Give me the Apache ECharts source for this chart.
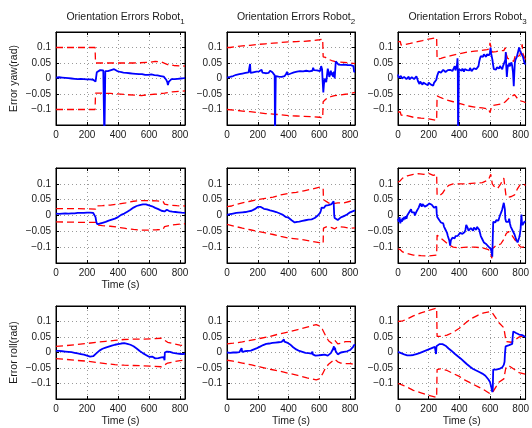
<!DOCTYPE html>
<html><head><meta charset="utf-8">
<script src="https://cdn.jsdelivr.net/npm/echarts@6/dist/echarts.min.js"></script>
<style>html,body{margin:0;padding:0;background:#fff}#c{width:532px;height:428px}</style>
</head><body><div id="c"></div><script>
// ---------- labels ----------
const titleMain = 'Orientation Errors Robot';
const robotIds = ['1', '2', '3'];
const rowYNames = ['Error yaw(rad)', '', 'Error roll(rad)'];
const timeName = 'Time (s)';
const xTickVals = [0, 200, 400, 600, 800];
const yTickVals = [-0.1, -0.05, 0, 0.05, 0.1];
const tMax = 832;
const yLim = 0.15;

// ---------- Robot 1, yaw ----------
const r1YawErr = [[0,0.003],[10,0.001],[20,0.004],[30,0.002],[40,0.003],[50,0.0],[60,0.002],[70,0.004],[80,0.001],[90,0.003],[100,0.0],[110,0.002],[120,-0.001],[130,0.001],[140,-0.002],[150,0.0],[160,-0.001],[170,0.002],[180,-0.002],[190,0.0],[200,-0.003],[210,-0.001],[220,-0.003],[230,-0.002],[240,-0.004],[250,-0.005],[255,-0.01],[260,-0.012],[263,0.02],[267,0.026],[275,0.024],[285,0.027],[295,0.023],[305,0.026],[310,0.025],[312,-0.2],[316,-0.2],[318,0.024],[325,0.027],[335,0.024],[345,0.029],[355,0.027],[365,0.032],[375,0.03],[385,0.027],[395,0.024],[405,0.026],[415,0.021],[425,0.023],[435,0.019],[445,0.022],[455,0.018],[465,0.021],[475,0.017],[485,0.02],[495,0.016],[505,0.019],[515,0.015],[525,0.018],[535,0.014],[545,0.017],[555,0.014],[565,0.016],[575,0.012],[585,0.015],[595,0.012],[605,0.01],[615,0.013],[625,0.009],[635,0.011],[645,0.008],[655,0.01],[665,0.006],[675,0.008],[685,0.004],[695,0.006],[705,0.002],[712,-0.005],[718,-0.012],[722,-0.021],[728,-0.01],[735,-0.004],[745,-0.002],[755,0.0],[765,-0.002],[775,0.001],[785,-0.001],[795,0.002],[805,0.0],[815,0.004],[825,0.001],[832,0.002]];
const r1YawUp = [[0,0.1],[252,0.1],[255,0.05],[300,0.05],[400,0.05],[500,0.05],[600,0.052],[640,0.055],[680,0.053],[720,0.045],[760,0.042],[832,0.04]];
const r1YawLo = [[0,-0.1],[252,-0.1],[255,-0.047],[350,-0.048],[450,-0.052],[550,-0.055],[600,-0.052],[650,-0.05],[700,-0.047],[750,-0.043],[832,-0.04]];

// ---------- Robot 2, yaw ----------
const r2YawErr = [[0,0.003],[10,0.0],[20,0.005],[30,0.002],[40,0.008],[50,0.006],[60,0.012],[70,0.009],[80,0.014],[90,0.011],[100,0.016],[110,0.012],[120,0.018],[130,0.014],[140,0.02],[145,0.016],[150,0.047],[153,0.018],[160,0.015],[170,0.02],[180,0.016],[190,0.022],[200,0.019],[210,0.023],[220,0.018],[225,0.028],[230,0.019],[240,0.022],[250,0.017],[260,0.023],[270,0.018],[280,0.025],[290,0.03],[295,0.02],[300,0.025],[305,0.015],[310,0.01],[312,-0.2],[315,-0.2],[317,0.008],[325,0.012],[335,0.006],[345,0.01],[355,0.005],[365,0.011],[375,0.008],[385,0.015],[390,0.022],[395,0.012],[405,0.01],[415,0.016],[425,0.012],[435,0.02],[445,0.016],[455,0.022],[465,0.018],[475,0.024],[485,0.019],[495,0.023],[505,0.018],[515,0.025],[525,0.02],[535,0.023],[545,0.028],[555,0.025],[560,0.035],[565,0.027],[575,0.03],[585,0.026],[595,0.031],[605,0.024],[612,0.04],[618,0.03],[622,-0.01],[626,-0.045],[630,-0.02],[635,0.0],[640,0.005],[645,-0.012],[650,0.01],[655,0.032],[660,0.02],[665,0.005],[670,0.015],[675,0.025],[680,0.01],[685,0.02],[690,0.005],[695,0.022],[700,0.0],[704,0.001],[707,0.055],[715,0.05],[725,0.045],[735,0.05],[745,0.044],[755,0.049],[765,0.045],[775,0.05],[785,0.043],[795,0.048],[805,0.043],[815,0.047],[822,0.04],[826,0.022],[832,0.021]];
const r2YawUp = [[0,0.1],[20,0.1],[60,0.103],[100,0.105],[150,0.107],[200,0.11],[250,0.112],[300,0.114],[350,0.116],[400,0.118],[450,0.119],[500,0.12],[550,0.122],[600,0.125],[622,0.127],[625,0.07],[640,0.068],[660,0.062],[680,0.058],[700,0.055],[720,0.053],[760,0.052],[800,0.05],[832,0.048]];
const r2YawLo = [[0,-0.1],[50,-0.102],[100,-0.105],[150,-0.107],[200,-0.11],[250,-0.113],[300,-0.115],[350,-0.117],[400,-0.12],[450,-0.121],[500,-0.122],[550,-0.123],[600,-0.125],[622,-0.127],[625,-0.075],[640,-0.068],[660,-0.06],[680,-0.058],[700,-0.055],[740,-0.053],[780,-0.05],[832,-0.045]];

// ---------- Robot 3, yaw ----------
const r3YawErr = [[0,0.013],[5,0.002],[10,0.006],[15,-0.002],[20,0.008],[25,0.0],[30,0.006],[35,-0.003],[40,0.005],[45,0.001],[50,0.007],[55,-0.002],[60,0.004],[65,0.0],[70,0.006],[75,-0.003],[80,0.002],[85,-0.004],[90,0.004],[95,-0.001],[100,0.003],[105,-0.002],[110,0.004],[115,0.0],[120,0.007],[125,0.0],[130,-0.008],[135,-0.012],[140,-0.018],[145,-0.01],[150,-0.016],[155,-0.011],[160,-0.02],[165,-0.013],[170,-0.017],[175,-0.01],[180,-0.018],[185,-0.012],[190,-0.016],[195,-0.022],[200,-0.013],[205,-0.018],[210,-0.012],[215,-0.02],[220,-0.015],[225,-0.018],[230,-0.023],[235,-0.014],[240,-0.019],[245,-0.012],[250,-0.004],[255,0.008],[260,0.015],[265,0.022],[270,0.016],[275,0.024],[280,0.019],[285,0.025],[290,0.02],[295,0.028],[300,0.022],[305,0.03],[310,0.021],[315,0.026],[320,0.02],[325,0.027],[330,0.032],[335,0.023],[340,0.028],[345,0.022],[350,0.029],[355,0.024],[360,0.03],[365,0.025],[370,0.04],[375,0.026],[380,0.03],[385,0.045],[388,0.065],[390,0.03],[392,-0.2],[395,-0.2],[397,0.03],[405,0.024],[410,0.03],[415,0.025],[420,0.032],[425,0.026],[430,0.022],[435,0.03],[440,0.025],[445,0.033],[450,0.027],[455,0.022],[460,0.03],[465,0.026],[470,0.034],[475,0.028],[480,0.024],[485,0.03],[490,0.026],[495,0.033],[500,0.028],[505,0.035],[510,0.03],[515,0.026],[520,0.034],[525,0.04],[530,0.055],[535,0.065],[540,0.072],[545,0.068],[550,0.075],[555,0.07],[560,0.078],[565,0.072],[570,0.076],[575,0.07],[580,0.078],[585,0.073],[590,0.082],[595,0.075],[600,0.085],[604,0.1],[608,0.08],[612,0.07],[616,0.06],[620,0.045],[625,0.03],[630,0.028],[635,0.034],[640,0.029],[645,0.036],[650,0.03],[655,0.038],[660,0.032],[665,0.04],[670,0.034],[675,0.038],[680,0.03],[685,0.04],[690,0.035],[695,0.045],[700,0.06],[703,0.085],[706,0.04],[710,0.005],[714,0.03],[718,0.045],[722,0.038],[726,0.05],[730,0.04],[735,0.045],[740,0.052],[745,0.04],[750,0.02],[755,-0.025],[758,0.01],[762,0.05],[766,0.06],[770,0.065],[775,0.07],[780,0.08],[785,0.09],[790,0.1],[795,0.09],[800,0.095],[805,0.08],[810,0.085],[815,0.07],[820,0.065],[825,0.05],[832,0.045]];
const r3YawUp = [[0,0.118],[15,0.12],[20,0.108],[50,0.11],[80,0.113],[120,0.118],[160,0.122],[200,0.127],[252,0.132],[255,0.062],[280,0.065],[300,0.068],[340,0.073],[380,0.078],[420,0.082],[460,0.086],[500,0.088],[540,0.09],[580,0.093],[595,0.095],[600,0.115],[605,0.12],[610,0.095],[615,0.085],[640,0.087],[670,0.09],[690,0.09],[700,0.1],[705,0.08],[715,0.065],[740,0.06],[755,0.055],[765,0.075],[780,0.07],[795,0.075],[810,0.11],[815,0.08],[832,0.06]];
const r3YawLo = [[0,-0.108],[15,-0.108],[20,-0.118],[60,-0.12],[100,-0.125],[150,-0.128],[200,-0.13],[252,-0.135],[255,-0.056],[280,-0.062],[320,-0.07],[360,-0.075],[400,-0.08],[450,-0.088],[500,-0.092],[550,-0.095],[590,-0.098],[600,-0.11],[608,-0.11],[612,-0.088],[640,-0.085],[680,-0.082],[700,-0.075],[720,-0.065],[740,-0.058],[760,-0.052],[780,-0.065],[800,-0.072],[820,-0.075],[832,-0.078]];

// ---------- Robot 1, pitch ----------
const r1PitchErr = [[0,0.006],[10,0.009],[20,0.005],[30,0.008],[40,0.006],[50,0.009],[60,0.007],[70,0.01],[80,0.006],[90,0.009],[100,0.007],[110,0.01],[120,0.007],[130,0.01],[140,0.008],[150,0.011],[160,0.008],[170,0.01],[180,0.008],[190,0.011],[200,0.009],[210,0.012],[220,0.009],[230,0.011],[240,0.008],[250,0.006],[255,-0.005],[260,-0.02],[265,-0.027],[270,-0.03],[275,-0.028],[280,-0.026],[290,-0.024],[300,-0.023],[310,-0.02],[320,-0.02],[330,-0.017],[340,-0.016],[350,-0.014],[360,-0.013],[370,-0.01],[380,-0.01],[390,-0.006],[400,-0.005],[410,0.0],[420,0.002],[430,0.005],[440,0.006],[450,0.01],[460,0.012],[470,0.016],[480,0.018],[490,0.022],[500,0.025],[510,0.028],[520,0.03],[530,0.032],[540,0.033],[550,0.035],[560,0.035],[570,0.037],[580,0.035],[590,0.035],[600,0.032],[610,0.031],[620,0.029],[630,0.028],[640,0.024],[650,0.023],[660,0.02],[670,0.018],[680,0.015],[690,0.015],[700,0.013],[710,0.013],[715,0.018],[720,0.023],[725,0.02],[730,0.014],[740,0.011],[750,0.012],[760,0.01],[770,0.011],[780,0.009],[790,0.01],[800,0.009],[810,0.009],[820,0.008],[832,0.008]];
const r1PitchUp = [[0,0.022],[100,0.022],[200,0.021],[255,0.02],[260,0.03],[300,0.031],[350,0.033],[400,0.036],[450,0.04],[500,0.045],[550,0.047],[600,0.047],[650,0.046],[690,0.045],[700,0.036],[730,0.033],[780,0.031],[832,0.03]];
const r1PitchLo = [[0,-0.02],[100,-0.021],[200,-0.022],[255,-0.022],[260,-0.03],[300,-0.032],[350,-0.034],[400,-0.037],[450,-0.041],[500,-0.044],[550,-0.046],[600,-0.046],[650,-0.045],[690,-0.044],[700,-0.035],[750,-0.03],[800,-0.027],[832,-0.026]];

// ---------- Robot 2, pitch ----------
const r2PitchErr = [[0,0.002],[10,0.0],[20,0.004],[30,0.001],[40,0.006],[50,0.003],[60,0.008],[70,0.004],[80,0.009],[90,0.005],[100,0.01],[110,0.006],[120,0.011],[130,0.008],[140,0.013],[150,0.01],[160,0.015],[170,0.018],[180,0.02],[190,0.024],[200,0.027],[210,0.025],[220,0.027],[230,0.022],[240,0.021],[250,0.018],[260,0.019],[270,0.015],[280,0.016],[290,0.013],[300,0.014],[310,0.011],[320,0.011],[330,0.008],[340,0.007],[350,0.004],[360,0.003],[370,-0.002],[380,-0.004],[390,-0.006],[400,-0.007],[410,-0.012],[420,-0.015],[430,-0.019],[440,-0.022],[450,-0.027],[455,-0.02],[460,-0.026],[470,-0.019],[480,-0.024],[490,-0.017],[500,-0.022],[510,-0.015],[520,-0.02],[530,-0.013],[540,-0.017],[550,-0.012],[560,-0.014],[570,-0.008],[580,-0.005],[590,0.0],[600,0.005],[605,0.008],[610,0.015],[615,0.025],[620,0.028],[630,0.024],[640,0.031],[650,0.026],[660,0.033],[670,0.028],[680,0.036],[690,0.04],[693,0.045],[697,0.0],[700,-0.008],[710,-0.012],[720,-0.014],[730,-0.009],[740,-0.006],[750,-0.008],[760,-0.002],[770,-0.004],[780,0.003],[790,0.006],[800,0.01],[810,0.008],[820,0.014],[832,0.016]];
const r2PitchUp = [[0,0.028],[30,0.03],[50,0.034],[100,0.04],[150,0.045],[200,0.05],[250,0.054],[300,0.058],[350,0.065],[400,0.07],[450,0.073],[500,0.078],[550,0.083],[590,0.088],[610,0.09],[625,0.085],[627,0.05],[640,0.045],[660,0.04],[680,0.035],[700,0.038],[720,0.04],[760,0.04],[800,0.045],[832,0.044]];
const r2PitchLo = [[0,-0.028],[50,-0.034],[100,-0.04],[150,-0.045],[200,-0.05],[250,-0.055],[300,-0.06],[350,-0.066],[400,-0.071],[450,-0.074],[500,-0.077],[550,-0.082],[600,-0.086],[625,-0.088],[627,-0.04],[650,-0.035],[680,-0.038],[700,-0.042],[720,-0.035],[760,-0.037],[800,-0.04],[832,-0.039]];

// ---------- Robot 3, pitch ----------
const r3PitchErr = [[0,-0.01],[5,-0.02],[10,-0.005],[15,-0.025],[20,-0.012],[25,-0.02],[30,-0.008],[35,-0.015],[40,-0.005],[45,-0.012],[50,-0.002],[55,-0.01],[60,0.0],[65,-0.005],[70,0.008],[75,0.002],[80,0.012],[85,0.02],[90,0.01],[95,0.015],[100,0.005],[105,0.01],[110,0.0],[115,0.006],[120,0.012],[125,0.008],[130,0.018],[135,0.025],[140,0.03],[145,0.038],[150,0.032],[155,0.028],[160,0.036],[165,0.03],[170,0.035],[175,0.028],[180,0.034],[185,0.026],[190,0.032],[195,0.036],[200,0.03],[205,0.038],[210,0.032],[215,0.04],[220,0.034],[225,0.03],[230,0.036],[235,0.025],[240,0.03],[245,0.022],[250,0.028],[253,0.005],[256,-0.005],[260,-0.01],[265,-0.004],[270,-0.015],[275,-0.012],[280,-0.022],[285,-0.02],[290,-0.028],[295,-0.025],[300,-0.035],[305,-0.04],[310,-0.045],[315,-0.05],[320,-0.055],[325,-0.065],[330,-0.07],[335,-0.08],[340,-0.095],[345,-0.078],[350,-0.082],[355,-0.07],[360,-0.075],[365,-0.068],[370,-0.072],[375,-0.065],[380,-0.07],[385,-0.06],[390,-0.064],[395,-0.058],[400,-0.062],[405,-0.055],[410,-0.06],[415,-0.054],[420,-0.058],[425,-0.055],[430,-0.06],[435,-0.052],[440,-0.045],[445,-0.03],[450,-0.025],[455,-0.04],[460,-0.048],[465,-0.044],[470,-0.05],[475,-0.04],[480,-0.046],[485,-0.042],[490,-0.048],[495,-0.038],[500,-0.044],[505,-0.04],[510,-0.045],[515,-0.036],[520,-0.03],[525,-0.038],[530,-0.045],[535,-0.055],[540,-0.065],[545,-0.07],[550,-0.075],[555,-0.08],[560,-0.085],[565,-0.083],[570,-0.088],[575,-0.09],[580,-0.092],[585,-0.095],[590,-0.098],[595,-0.1],[600,-0.097],[605,-0.105],[610,-0.115],[615,-0.13],[618,-0.125],[621,-0.02],[625,-0.025],[630,-0.018],[635,-0.022],[640,-0.015],[645,-0.02],[650,-0.012],[655,-0.016],[660,-0.008],[665,0.0],[670,0.005],[675,0.012],[680,0.02],[685,0.03],[690,0.04],[693,0.045],[697,0.02],[700,-0.01],[705,-0.02],[710,-0.015],[715,-0.025],[720,-0.02],[725,-0.01],[730,-0.025],[735,-0.035],[740,-0.03],[745,-0.04],[750,-0.05],[755,-0.055],[760,-0.06],[765,-0.065],[770,-0.075],[775,-0.08],[780,-0.085],[785,-0.078],[790,-0.07],[795,-0.06],[800,-0.04],[805,0.003],[808,-0.02],[812,-0.03],[818,-0.028],[825,-0.02],[832,-0.018]];
const r3PitchUp = [[0,0.105],[15,0.11],[30,0.118],[60,0.125],[100,0.13],[130,0.132],[170,0.13],[200,0.133],[230,0.127],[252,0.13],[255,0.065],[270,0.062],[290,0.07],[310,0.085],[330,0.095],[360,0.1],[400,0.1],[450,0.1],[500,0.102],[550,0.104],[590,0.112],[605,0.13],[612,0.125],[615,0.1],[630,0.09],[650,0.085],[670,0.1],[690,0.118],[700,0.12],[705,0.06],[720,0.058],[740,0.06],[760,0.065],[780,0.085],[800,0.1],[815,0.1],[832,0.095]];
const r3PitchLo = [[0,-0.105],[15,-0.108],[30,-0.115],[60,-0.12],[100,-0.125],[150,-0.127],[200,-0.128],[252,-0.125],[255,-0.062],[270,-0.068],[300,-0.08],[330,-0.092],[360,-0.1],[400,-0.102],[450,-0.1],[500,-0.1],[550,-0.102],[590,-0.108],[605,-0.12],[612,-0.135],[615,-0.105],[640,-0.095],[670,-0.09],[690,-0.075],[705,-0.058],[720,-0.05],[740,-0.06],[760,-0.075],[780,-0.088],[800,-0.1],[815,-0.1],[832,-0.098]];

// ---------- Robot 1, roll ----------
const r1RollErr = [[0,0.005],[10,0.003],[20,0.005],[30,0.002],[40,0.004],[50,0.001],[60,0.003],[70,0.0],[80,0.002],[90,-0.001],[100,0.001],[110,-0.002],[120,-0.001],[130,-0.003],[140,-0.003],[150,-0.005],[160,-0.005],[170,-0.007],[180,-0.007],[190,-0.009],[200,-0.01],[210,-0.011],[220,-0.013],[230,-0.014],[240,-0.012],[250,-0.008],[260,-0.003],[270,0.002],[280,0.006],[290,0.009],[300,0.012],[310,0.014],[320,0.016],[330,0.018],[340,0.019],[350,0.021],[360,0.022],[370,0.024],[380,0.025],[390,0.026],[400,0.027],[410,0.028],[420,0.029],[430,0.03],[440,0.03],[450,0.029],[460,0.028],[470,0.027],[480,0.025],[490,0.022],[500,0.02],[510,0.017],[520,0.013],[530,0.009],[540,0.005],[550,0.002],[560,-0.002],[570,-0.005],[580,-0.008],[590,-0.011],[600,-0.014],[610,-0.016],[620,-0.013],[630,-0.017],[640,-0.019],[650,-0.016],[660,-0.018],[670,-0.014],[680,-0.016],[690,-0.012],[695,-0.015],[700,-0.025],[702,0.0],[705,0.004],[715,0.003],[725,0.006],[735,0.002],[745,0.004],[755,-0.001],[765,0.002],[775,-0.003],[785,-0.005],[795,-0.004],[805,-0.007],[815,-0.005],[825,-0.006],[832,-0.004]];
const r1RollUp = [[0,0.02],[60,0.022],[120,0.025],[200,0.029],[260,0.033],[320,0.036],[380,0.039],[440,0.042],[500,0.043],[560,0.043],[620,0.044],[680,0.046],[700,0.04],[720,0.033],[760,0.028],[800,0.024],[832,0.022]];
const r1RollLo = [[0,-0.02],[60,-0.022],[120,-0.025],[200,-0.028],[260,-0.032],[320,-0.036],[380,-0.039],[440,-0.041],[500,-0.042],[560,-0.043],[620,-0.044],[680,-0.046],[700,-0.04],[720,-0.034],[760,-0.03],[800,-0.026],[832,-0.024]];

// ---------- Robot 2, roll ----------
const r2RollErr = [[0,0.0],[10,0.001],[20,-0.001],[30,0.001],[40,0.0],[50,0.002],[60,0.0],[70,0.002],[80,0.001],[90,0.003],[95,0.014],[98,0.002],[105,0.003],[115,0.004],[125,0.003],[135,0.005],[145,0.004],[155,0.006],[165,0.008],[175,0.01],[185,0.012],[195,0.014],[205,0.017],[215,0.019],[225,0.022],[235,0.024],[245,0.026],[255,0.028],[265,0.03],[275,0.029],[285,0.032],[295,0.031],[305,0.033],[315,0.032],[325,0.034],[335,0.033],[345,0.036],[355,0.034],[365,0.037],[370,0.042],[373,0.035],[380,0.034],[390,0.032],[400,0.029],[410,0.026],[420,0.021],[430,0.017],[440,0.013],[450,0.01],[460,0.007],[470,0.005],[480,0.003],[490,0.002],[500,0.001],[510,-0.001],[520,-0.003],[530,-0.002],[540,-0.005],[550,-0.004],[555,0.003],[558,-0.006],[565,-0.008],[575,-0.01],[585,-0.012],[595,-0.009],[605,-0.006],[615,-0.008],[625,-0.003],[635,-0.007],[645,-0.012],[655,-0.01],[665,-0.006],[675,-0.002],[685,0.004],[690,0.012],[695,0.02],[698,0.008],[702,0.016],[706,0.005],[712,0.0],[720,-0.006],[730,-0.004],[740,0.0],[750,-0.003],[760,0.002],[770,0.0],[780,0.004],[790,0.006],[800,0.008],[810,0.012],[820,0.018],[826,0.025],[832,0.022]];
const r2RollUp = [[0,0.028],[40,0.03],[100,0.034],[160,0.04],[220,0.046],[280,0.052],[340,0.06],[400,0.066],[460,0.074],[520,0.082],[580,0.09],[600,0.086],[620,0.075],[640,0.055],[660,0.038],[680,0.03],[700,0.04],[720,0.028],[740,0.03],[770,0.035],[800,0.035],[832,0.038]];
const r2RollLo = [[0,-0.025],[40,-0.028],[100,-0.034],[160,-0.04],[220,-0.047],[280,-0.054],[340,-0.06],[400,-0.067],[460,-0.074],[520,-0.082],[580,-0.088],[600,-0.085],[620,-0.07],[640,-0.05],[660,-0.038],[680,-0.03],[700,-0.022],[720,-0.03],[740,-0.034],[770,-0.036],[800,-0.036],[832,-0.038]];

// ---------- Robot 3, roll ----------
const r3RollErr = [[0,0.002],[10,0.0],[20,-0.002],[30,-0.004],[40,-0.006],[50,-0.008],[60,-0.009],[70,-0.01],[80,-0.009],[90,-0.008],[100,-0.008],[110,-0.006],[120,-0.005],[130,-0.003],[140,-0.002],[150,0.0],[160,0.002],[170,0.004],[180,0.006],[190,0.008],[200,0.01],[210,0.012],[220,0.014],[230,0.016],[240,0.018],[245,0.02],[248,-0.005],[251,0.02],[260,0.024],[270,0.027],[280,0.028],[290,0.027],[300,0.025],[310,0.022],[320,0.018],[330,0.013],[340,0.009],[350,0.005],[360,0.0],[370,-0.004],[380,-0.008],[390,-0.012],[400,-0.016],[410,-0.02],[420,-0.025],[430,-0.029],[440,-0.034],[450,-0.038],[460,-0.042],[470,-0.046],[480,-0.05],[490,-0.053],[500,-0.056],[510,-0.058],[520,-0.06],[530,-0.063],[540,-0.065],[550,-0.068],[560,-0.071],[570,-0.075],[580,-0.08],[590,-0.087],[600,-0.095],[605,-0.1],[610,-0.115],[615,-0.128],[618,-0.12],[621,-0.055],[630,-0.05],[640,-0.055],[650,-0.057],[660,-0.053],[670,-0.05],[680,-0.048],[690,-0.04],[695,-0.03],[698,-0.002],[702,0.02],[706,0.025],[715,0.026],[725,0.024],[735,0.027],[745,0.028],[748,0.05],[752,0.068],[760,0.066],[770,0.063],[780,0.06],[790,0.058],[800,0.055],[810,0.056],[820,0.052],[832,0.05]];
const r3RollUp = [[0,0.1],[30,0.102],[60,0.108],[100,0.118],[150,0.128],[200,0.136],[252,0.143],[255,0.052],[280,0.052],[320,0.056],[360,0.065],[400,0.078],[440,0.095],[480,0.11],[520,0.12],[560,0.128],[600,0.132],[615,0.128],[640,0.11],[660,0.095],[690,0.08],[700,0.075],[705,0.035],[740,0.033],[760,0.04],[790,0.05],[832,0.055]];
const r3RollLo = [[0,-0.1],[30,-0.105],[60,-0.112],[100,-0.122],[150,-0.13],[200,-0.138],[252,-0.145],[255,-0.055],[280,-0.052],[320,-0.058],[360,-0.068],[400,-0.077],[440,-0.09],[480,-0.1],[520,-0.11],[560,-0.12],[600,-0.133],[615,-0.13],[640,-0.11],[660,-0.095],[690,-0.085],[700,-0.08],[705,-0.045],[730,-0.045],[760,-0.055],[790,-0.065],[832,-0.07]];

// panels: row-major [row][col] -> [error, upper, lower]
const panels = [
  [[r1YawErr, r1YawUp, r1YawLo], [r2YawErr, r2YawUp, r2YawLo], [r3YawErr, r3YawUp, r3YawLo]],
  [[r1PitchErr, r1PitchUp, r1PitchLo], [r2PitchErr, r2PitchUp, r2PitchLo], [r3PitchErr, r3PitchUp, r3PitchLo]],
  [[r1RollErr, r1RollUp, r1RollLo], [r2RollErr, r2RollUp, r2RollLo], [r3RollErr, r3RollUp, r3RollLo]]
];
// which panels carry the "Time (s)" label
const showTime = [[false,false,false],[true,false,false],[true,true,true]];

// ---------- layout ----------
const colLeft = [56, 227, 398];
const colW = [129, 128, 129];
const rowTop = [32, 168, 306];
const rowH = [93, 95, 94];
const FONT = '"Liberation Sans", Arial, Helvetica, sans-serif';
const TXT = '#1a1a1a';

function fmtY(v) {
  const r = Math.round(v * 100) / 100;
  if (Math.abs(r) > 0.12) return '';
  return String(r).replace('-', '\u2212');
}
function fmtX(v) {
  return xTickVals.indexOf(Math.round(v)) >= 0 ? String(Math.round(v)) : '';
}

const grid = [], xAxis = [], yAxis = [], series = [], title = [];
let gi = 0;
for (let r = 0; r < 3; r++) {
  for (let c = 0; c < 3; c++) {
    grid.push({left: colLeft[c], top: rowTop[r], width: colW[c], height: rowH[r],
      show: true, borderColor: '#000', borderWidth: 1, backgroundColor: '#fff', containLabel: false});
    const splitStyle = {show: true, lineStyle: {color: '#9a9a9a', width: 1, type: [1, 3]}};
    xAxis.push({type: 'value', gridIndex: gi, min: 0, max: tMax, interval: 200, position: 'bottom',
      axisLine: {show: true, onZero: false, lineStyle: {color: '#000'}},
      axisTick: {show: true, inside: true, length: 3, lineStyle: {color: '#000'}},
      axisLabel: {formatter: fmtX, color: TXT, fontSize: 10, fontFamily: FONT, margin: 5, showMaxLabel: false},
      splitLine: splitStyle,
      name: showTime[r][c] ? timeName : '', nameLocation: 'middle', nameGap: 17,
      nameTextStyle: {color: TXT, fontSize: 10.5, fontFamily: FONT}});
    xAxis.push({type: 'value', gridIndex: gi, min: 0, max: tMax, interval: 200, position: 'top',
      axisLine: {show: true, onZero: false, lineStyle: {color: '#000'}},
      axisTick: {show: true, inside: true, length: 3, lineStyle: {color: '#000'}},
      axisLabel: {show: false}, splitLine: {show: false}});
    yAxis.push({type: 'value', gridIndex: gi, min: -yLim, max: yLim, interval: 0.05, position: 'left',
      axisLine: {show: true, onZero: false, lineStyle: {color: '#000'}},
      axisTick: {show: true, inside: true, length: 3, lineStyle: {color: '#000'}},
      axisLabel: {formatter: fmtY, color: TXT, fontSize: 10, fontFamily: FONT, margin: 5},
      splitLine: splitStyle,
      name: c === 0 ? rowYNames[r] : '', nameLocation: 'middle', nameGap: 36, nameRotate: 90,
      nameTextStyle: {color: TXT, fontSize: 10.5, fontFamily: FONT}});
    yAxis.push({type: 'value', gridIndex: gi, min: -yLim, max: yLim, interval: 0.05, position: 'right',
      axisLine: {show: true, onZero: false, lineStyle: {color: '#000'}},
      axisTick: {show: true, inside: true, length: 3, lineStyle: {color: '#000'}},
      axisLabel: {show: false}, splitLine: {show: false}});
    const [err, up, lo] = panels[r][c];
    const redStyle = {color: '#ff0000', width: 1.3, type: [7, 4]};
    [up, lo].forEach(d => series.push({type: 'line', xAxisIndex: gi * 2, yAxisIndex: gi * 2, data: d,
      showSymbol: false, symbol: 'none', clip: true, lineStyle: redStyle, z: 2, silent: true}));
    series.push({type: 'line', xAxisIndex: gi * 2, yAxisIndex: gi * 2, data: err,
      showSymbol: false, symbol: 'none', clip: true, lineStyle: {color: '#0000ff', width: 1.8}, z: 3, silent: true});
    gi++;
  }
}
for (let c = 0; c < 3; c++) {
  title.push({text: '{a|' + titleMain + '}{b|' + robotIds[c] + '}', left: colLeft[c] + colW[c] / 2, top: 4,
    textAlign: 'center',
    textStyle: {fontWeight: 'normal', rich: {
      a: {fontSize: 10.5, fontWeight: 'normal', fontFamily: FONT, color: TXT, lineHeight: 14, verticalAlign: 'bottom'},
      b: {fontSize: 8, fontWeight: 'normal', fontFamily: FONT, color: TXT, lineHeight: 14, verticalAlign: 'bottom', padding: [0, 0, -3, 0]}
    }}});
}

const chart = echarts.init(document.getElementById('c'), null, {renderer: 'canvas'});
chart.setOption({animation: false, backgroundColor: '#fff', title, grid, xAxis, yAxis, series});
</script></body></html>
